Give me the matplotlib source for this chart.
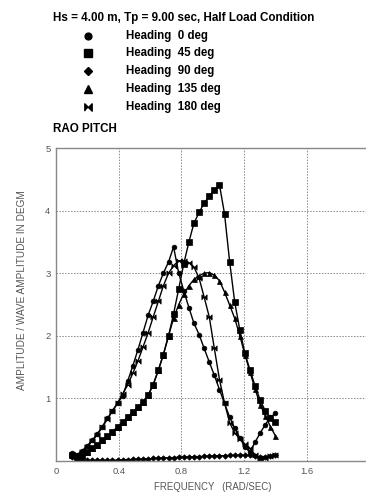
import matplotlib
matplotlib.use("Agg")
import matplotlib.pyplot as plt
from matplotlib.lines import Line2D

plt.rcParams['font.family'] = ['Liberation Sans', 'DejaVu Sans']

freq = [0.100, 0.133, 0.165, 0.198, 0.230, 0.263, 0.295, 0.328, 0.360, 0.393,
        0.425, 0.458, 0.490, 0.523, 0.555, 0.588, 0.620, 0.653, 0.685, 0.718,
        0.750, 0.783, 0.815, 0.848, 0.880, 0.913, 0.945, 0.978, 1.010, 1.043,
        1.075, 1.108, 1.140, 1.173, 1.205, 1.238, 1.270, 1.303, 1.335, 1.368, 1.400]

rao_0 = [0.12, 0.10, 0.16, 0.24, 0.33, 0.43, 0.55, 0.68, 0.80, 0.92,
         1.04, 1.28, 1.52, 1.78, 2.05, 2.33, 2.55, 2.80, 3.00, 3.18,
         3.42, 3.00, 2.72, 2.45, 2.20, 2.02, 1.80, 1.58, 1.37, 1.14,
         0.92, 0.70, 0.52, 0.37, 0.22, 0.15, 0.30, 0.45, 0.58, 0.70, 0.76]

rao_45 = [0.10, 0.07, 0.10, 0.15, 0.20, 0.26, 0.33, 0.40, 0.47, 0.54,
          0.62, 0.70, 0.78, 0.86, 0.94, 1.05, 1.22, 1.45, 1.70, 2.00,
          2.35, 2.75, 3.15, 3.50, 3.80, 3.97, 4.12, 4.23, 4.33, 4.41,
          3.95, 3.18, 2.54, 2.09, 1.72, 1.45, 1.20, 0.97, 0.80, 0.68, 0.62]

rao_90 = [0.06, 0.03, 0.02, 0.01, 0.01, 0.01, 0.01, 0.01, 0.01, 0.015,
          0.02, 0.02, 0.025, 0.03, 0.03, 0.035, 0.04, 0.045, 0.05, 0.05,
          0.055, 0.06, 0.065, 0.065, 0.07, 0.07, 0.075, 0.08, 0.08, 0.085,
          0.085, 0.09, 0.09, 0.09, 0.09, 0.09, 0.08, 0.06, 0.07, 0.08, 0.09]

rao_135 = [0.10, 0.07, 0.10, 0.15, 0.20, 0.26, 0.33, 0.40, 0.47, 0.54,
           0.62, 0.70, 0.78, 0.86, 0.94, 1.05, 1.22, 1.45, 1.70, 2.00,
           2.28, 2.50, 2.67, 2.80, 2.90, 2.96, 3.00, 3.01, 2.97, 2.88,
           2.70, 2.49, 2.28, 2.00, 1.70, 1.42, 1.15, 0.90, 0.72, 0.55, 0.40]

rao_180 = [0.10, 0.08, 0.15, 0.22, 0.32, 0.42, 0.54, 0.67, 0.80, 0.93,
           1.07, 1.22, 1.40, 1.60, 1.82, 2.05, 2.30, 2.55, 2.80, 3.00,
           3.12, 3.20, 3.20, 3.17, 3.10, 2.92, 2.62, 2.30, 1.80, 1.30,
           0.93, 0.61, 0.45, 0.35, 0.27, 0.20, 0.10, 0.01, 0.05, 0.08, 0.10]

headings = ["Heading  0 deg", "Heading  45 deg", "Heading  90 deg",
            "Heading  135 deg", "Heading  180 deg"]

xticks = [0, 0.4, 0.8, 1.2, 1.6, 2.0]
xticklabels = ["0", "0.4", "0.8", "1.2", "1.6", "2"]
yticks = [1, 2, 3, 4, 5]

bowtie = [(-1, -1), (-1, 1), (0, 0), (1, 1), (1, -1), (0, 0)]
markers = ['o', 's', 'D', '^', bowtie]
msizes = [3.4, 3.8, 2.8, 3.6, 3.8]
series = [rao_0, rao_45, rao_90, rao_135, rao_180]

W, H = 366, 497
fig = plt.figure(figsize=(W / 100, H / 100), dpi=100)
ax = fig.add_axes([56 / W, 36 / H, (369.5 - 56) / W, 313 / H])

for ys, m, ms in zip(series, markers, msizes):
    ax.plot(freq, ys, color='black', lw=1.0, marker=m, ms=ms,
            mfc='black', mec='black', mew=0.5)

ax.set_xlim(0, 2.0)
ax.set_ylim(0, 5)
ax.set_xticks(xticks)
ax.set_xticklabels(xticklabels)
ax.set_yticks(yticks)
ax.grid(True, color='#888888', linestyle=(0, (1.5, 1.5)), lw=0.7)
ax.tick_params(length=0, labelsize=6.8, colors='#555555', pad=4)
for s in ax.spines.values():
    s.set_color('#888888')
    s.set_linewidth(1.0)

ax.set_xlabel("FREQUENCY   (RAD/SEC)", fontsize=6.9, color='#555555', labelpad=5)
fig.text(22 / W, 1 - 290 / H, "AMPLITUDE / WAVE AMPLITUDE IN DEGM", rotation=90,
         fontsize=7.2, color='#555555', ha='center', va='center')

fig.text(53 / W, 1 - 18 / H, "Hs = 4.00 m, Tp = 9.00 sec, Half Load Condition",
         fontsize=8.4, fontweight='bold', ha='left', va='center')
row_y = [35.7, 53.3, 71.0, 89.0, 106.7]
for label, m, ms, yy in zip(headings, markers, msizes, row_y):
    fig.add_artist(Line2D([88 / W], [1 - yy / H], marker=m, ms=ms + 1.5,
                          color='black', mfc='black', mec='black',
                          transform=fig.transFigure))
    fig.text(126 / W, 1 - yy / H, label, fontsize=8.3, fontweight='bold',
             ha='left', va='center')
fig.text(53 / W, 1 - 129 / H, "RAO PITCH", fontsize=8.4, fontweight='bold',
         ha='left', va='center')

fig.savefig("out.png", dpi=100)
